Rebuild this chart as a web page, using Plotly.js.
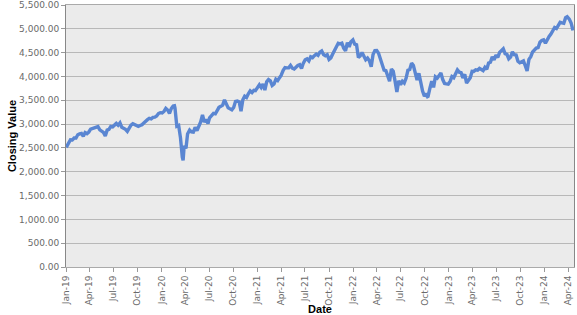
<!DOCTYPE html>
<html><head><meta charset="utf-8">
<script src="https://cdn.plot.ly/plotly-3.0.1.min.js"></script>
<style>html,body{margin:0;padding:0;background:#fff;}#chart{width:577px;height:315px;}</style>
</head><body><div id="chart"></div>
<script>
const dates = [
"2019-01-02","2019-01-04","2019-01-11","2019-01-18","2019-01-25","2019-02-01","2019-02-08","2019-02-15","2019-02-22","2019-03-01","2019-03-08","2019-03-15","2019-03-22","2019-03-29","2019-04-05","2019-04-12","2019-04-18","2019-04-26","2019-05-03","2019-05-10","2019-05-17","2019-05-24","2019-05-31","2019-06-07","2019-06-14","2019-06-21","2019-06-28","2019-07-05","2019-07-12","2019-07-19","2019-07-26","2019-08-02","2019-08-09","2019-08-16","2019-08-23","2019-08-30","2019-09-06","2019-09-13","2019-09-20","2019-09-27","2019-10-04","2019-10-11","2019-10-18","2019-10-25","2019-11-01","2019-11-08","2019-11-15","2019-11-22","2019-11-29","2019-12-06","2019-12-13","2019-12-20","2019-12-27",
"2020-01-03","2020-01-10","2020-01-17","2020-01-24","2020-01-31","2020-02-07","2020-02-14","2020-02-19","2020-02-21","2020-02-28","2020-03-06","2020-03-13","2020-03-16","2020-03-20","2020-03-23","2020-03-27","2020-04-03","2020-04-09","2020-04-17","2020-04-24","2020-05-01","2020-05-08","2020-05-15","2020-05-22","2020-05-29","2020-06-05","2020-06-12","2020-06-19","2020-06-26","2020-07-02","2020-07-10","2020-07-17","2020-07-24","2020-07-31","2020-08-07","2020-08-14","2020-08-21","2020-08-28","2020-09-04","2020-09-11","2020-09-18","2020-09-25","2020-10-02","2020-10-09","2020-10-16","2020-10-23","2020-10-30","2020-11-06","2020-11-13","2020-11-20","2020-11-27","2020-12-04","2020-12-11","2020-12-18","2020-12-24","2020-12-31",
"2021-01-08","2021-01-15","2021-01-22","2021-01-29","2021-02-05","2021-02-12","2021-02-19","2021-02-26","2021-03-05","2021-03-12","2021-03-19","2021-03-26","2021-04-01","2021-04-09","2021-04-16","2021-04-23","2021-04-30","2021-05-07","2021-05-14","2021-05-21","2021-05-28","2021-06-04","2021-06-11","2021-06-18","2021-06-25","2021-07-02","2021-07-09","2021-07-16","2021-07-23","2021-07-30","2021-08-06","2021-08-13","2021-08-20","2021-08-27","2021-09-03","2021-09-10","2021-09-17","2021-09-24","2021-10-01","2021-10-08","2021-10-15","2021-10-22","2021-10-29","2021-11-05","2021-11-12","2021-11-19","2021-11-26","2021-12-03","2021-12-10","2021-12-17","2021-12-23","2021-12-31",
"2022-01-07","2022-01-14","2022-01-21","2022-01-28","2022-02-04","2022-02-11","2022-02-18","2022-02-25","2022-03-04","2022-03-11","2022-03-18","2022-03-25","2022-04-01","2022-04-08","2022-04-14","2022-04-22","2022-04-29","2022-05-06","2022-05-13","2022-05-20","2022-05-27","2022-06-03","2022-06-10","2022-06-17","2022-06-24","2022-07-01","2022-07-08","2022-07-15","2022-07-22","2022-07-29","2022-08-05","2022-08-12","2022-08-19","2022-08-26","2022-09-02","2022-09-09","2022-09-16","2022-09-23","2022-09-30","2022-10-07","2022-10-12","2022-10-14","2022-10-21","2022-10-28","2022-11-04","2022-11-11","2022-11-18","2022-11-25","2022-12-02","2022-12-09","2022-12-16","2022-12-23","2022-12-30",
"2023-01-06","2023-01-13","2023-01-20","2023-01-27","2023-02-03","2023-02-10","2023-02-17","2023-02-24","2023-03-03","2023-03-10","2023-03-17","2023-03-24","2023-03-31","2023-04-06","2023-04-14","2023-04-21","2023-04-28","2023-05-05","2023-05-12","2023-05-19","2023-05-26","2023-06-02","2023-06-09","2023-06-16","2023-06-23","2023-06-30","2023-07-07","2023-07-14","2023-07-21","2023-07-28","2023-08-04","2023-08-11","2023-08-18","2023-08-25","2023-09-01","2023-09-08","2023-09-15","2023-09-22","2023-09-29","2023-10-06","2023-10-13","2023-10-20","2023-10-27","2023-11-03","2023-11-10","2023-11-17","2023-11-24","2023-12-01","2023-12-08","2023-12-15","2023-12-22","2023-12-29",
"2024-01-05","2024-01-12","2024-01-19","2024-01-26","2024-02-02","2024-02-09","2024-02-16","2024-02-23","2024-03-01","2024-03-08","2024-03-15","2024-03-22","2024-03-28","2024-04-05","2024-04-12","2024-04-19"
];
const closes = [
2510,2532,2596,2671,2665,2707,2708,2776,2793,2804,2743,2822,2801,2834,2893,2907,2905,2940,2946,2881,2860,2826,2752,2873,2887,2950,2942,2990,3014,2977,3026,2932,2919,2889,2847,2926,2979,3007,2992,2962,2952,2970,2986,3023,3067,3093,3120,3110,3141,3146,3169,3221,3240,
3235,3265,3330,3295,3226,3328,3380,3386,3338,2954,2972,2711,2386,2305,2237,2541,2489,2790,2875,2837,2831,2930,2864,2955,3044,3194,3041,3098,3009,3130,3185,3225,3216,3271,3351,3373,3397,3508,3427,3341,3319,3298,3348,3477,3484,3465,3270,3509,3585,3558,3638,3699,3663,3709,3703,3756,
3825,3768,3841,3714,3887,3934,3907,3811,3842,3943,3913,3975,4020,4129,4185,4180,4181,4233,4174,4156,4204,4230,4247,4166,4281,4352,4370,4327,4412,4395,4437,4468,4442,4509,4535,4459,4433,4455,4357,4391,4471,4545,4605,4697,4683,4698,4595,4538,4712,4621,4726,4766,
4677,4663,4398,4432,4501,4419,4349,4385,4329,4204,4463,4543,4546,4488,4392,4272,4132,4123,4024,3901,4158,4109,3901,3675,3912,3825,3899,3863,3962,4130,4145,4280,4228,4058,3924,4067,3873,3693,3586,3640,3577,3583,3753,3901,3771,3993,3965,4026,4072,3934,3852,3845,3840,
3895,3999,3973,4071,4136,4090,4079,3970,4046,3862,3917,3971,4109,4105,4138,4133,4169,4136,4124,4192,4151,4282,4299,4410,4348,4450,4399,4505,4536,4582,4478,4464,4370,4406,4516,4457,4450,4320,4288,4309,4327,4224,4117,4358,4415,4514,4559,4595,4604,4719,4755,4770,
4697,4784,4840,4891,4959,5027,5006,5089,5137,5124,5117,5234,5254,5204,5123,4967
];
const yTicks = [0,500,1000,1500,2000,2500,3000,3500,4000,4500,5000,5500];
const yTickText = yTicks.map(v => v.toLocaleString('en-US',{minimumFractionDigits:2,maximumFractionDigits:2}));

const trace = {
  x: dates, y: closes, type: 'scatter', mode: 'lines',
  line: {color: '#5a86d2', width: 3.4}, hoverinfo: 'skip'
};
const titleFont = {size: 11, color: '#000000', family: 'Liberation Sans, Arial, sans-serif', weight: 'bold'};
const layout = {
  width: 577, height: 315,
  margin: {l: 66, r: 3, t: 5, b: 48},
  paper_bgcolor: '#ffffff', plot_bgcolor: '#ebebeb',
  showlegend: false,
  font: {family: 'DejaVu Sans, Verdana, sans-serif', size: 9, color: '#6a6a6a'},
  xaxis: {
    type: 'date', range: ['2019-01-01', '2024-04-23'],
    tickformat: '%b-%y', dtick: 'M3', tick0: '2019-01-01',
    tickangle: -90, ticks: 'outside', ticklen: 4, tickcolor: '#999999',
    showgrid: false, showline: true, linecolor: '#aaaaaa', mirror: true, linewidth: 1,
    tickfont: {size: 9, color: '#6a6a6a'},
    title: {text: 'Date', font: titleFont, standoff: 3},
    zeroline: false, automargin: false
  },
  yaxis: {
    range: [0, 5500], tickvals: yTicks, ticktext: yTickText,
    ticks: 'outside', ticklen: 4, tickcolor: '#999999',
    ticklabeloverflow: 'allow',
    showgrid: true, gridcolor: '#b8b8b8', gridwidth: 1,
    showline: true, linecolor: '#888888', mirror: true, linewidth: 1,
    tickfont: {size: 9, color: '#6a6a6a'},
    title: {text: 'Closing Value', font: titleFont, standoff: 0},
    zeroline: false, automargin: false
  }
};
Plotly.newPlot('chart', [trace], layout, {staticPlot: true, displayModeBar: false});
</script></body></html>
